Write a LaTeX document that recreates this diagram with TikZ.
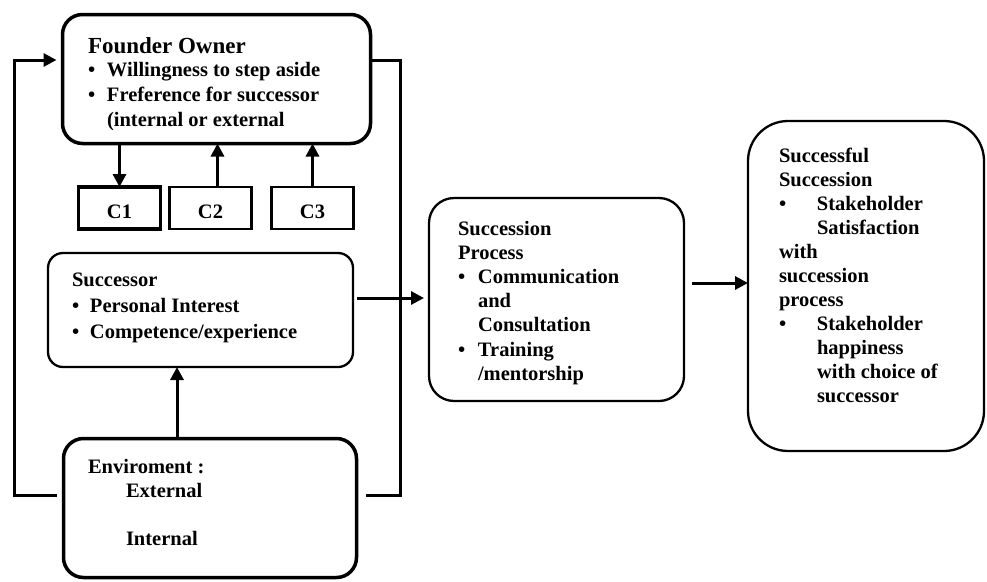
\documentclass[tikz,border=0pt]{standalone}
\usepackage{fontspec}
\setmainfont{Liberation Serif}
\usetikzlibrary{arrows.meta}

% bullet set in a box of fixed width, so that wrapped lines can line up
\newcommand\bulbox[1]{\makebox[#1][l]{\textbullet}}
\newcommand\hangbox[1]{\makebox[#1][l]{}}
% lines stacked under a first line that carries the baseline
\newcommand\linestack[1]{\begin{tabular}[t]{@{}l@{}}#1\end{tabular}}

\begin{document}
\begin{tikzpicture}[x=1pt,y=-1pt,
  every node/.style={inner sep=0pt, outer sep=0pt},
  frame/.style={draw, line width=#1},
  heavy/.style={frame=3.5pt},
  light/.style={frame=2.3pt},
  cbox/.style={frame=#1, minimum width=82pt, minimum height=42pt, anchor=north west},
  txt/.style={anchor=base west, font=\bfseries\fontsize{20.5}{#1}\selectfont},
  tip/.style={-{Triangle[length=13pt,width=13pt]}},
  conn/.style={line width=3pt},
  arr/.style={line width=3pt, tip},
]
\useasboundingbox (0,0) rectangle (987,581);

% ---- boxes ----
\node[heavy, rounded corners=20pt, minimum width=308pt, minimum height=129pt, anchor=north west] (founder) at (62.5,14.5) {};
\node[cbox=3.2pt] (c1) at (78.5,187) {};
\node[cbox=2.6pt] (c2) at (169.5,187) {};
\node[cbox=2.6pt] (c3) at (271.5,187) {};
\node[light, rounded corners=15pt, minimum width=305pt, minimum height=114pt, anchor=north west] (succ) at (48,253) {};
\node[heavy, rounded corners=20pt, minimum width=293pt, minimum height=139pt, anchor=north west] (env) at (63.5,438.5) {};
\node[light, rounded corners=25pt, minimum width=255pt, minimum height=203pt, anchor=north west] (proc) at (429,198) {};
\node[light, rounded corners=40pt, minimum width=236pt, minimum height=330pt, anchor=north west] (done) at (748,121) {};

% ---- texts ----
\node[anchor=base west, font=\bfseries\fontsize{23}{26}\selectfont] (fotitle) at (88,53) {Founder Owner};
\node[txt=25pt] (folist) at (88,76) {\linestack{\bulbox{19pt}Willingness to step aside\\
  \bulbox{19pt}Freference for successor\\
  \hangbox{19pt}(internal or external}};
\node[txt=20pt, anchor=base] (c1t) at (c1.center |- 0,218) {C1};
\node[txt=20pt, anchor=base] (c2t) at (c2.center |- 0,218) {C2};
\node[txt=20pt, anchor=base] (c3t) at (c3.center |- 0,218) {C3};
\node[txt=26pt] (succtxt) at (72,286) {\linestack{Successor\\
  \bulbox{18pt}Personal Interest\\
  \bulbox{18pt}Competence/experience}};
\node[txt=24pt] (envtxt) at (88,473) {\linestack{Enviroment :\\
  \hangbox{38pt}External\\
  \\
  \hangbox{38pt}Internal}};
\node[txt=24.2pt] (proctxt) at (458,235) {\linestack{Succession\\
  Process\\
  \bulbox{20pt}Communication\\
  \hangbox{20pt}and\\
  \hangbox{20pt}Consultation\\
  \bulbox{20pt}Training\\
  \hangbox{20pt}/mentorship}};
\node[txt=24pt] (donetxt) at (779,162) {\linestack{Successful\\
  Succession\\
  \bulbox{38pt}Stakeholder\\
  \hangbox{38pt}Satisfaction\\
  with\\
  succession\\
  process\\
  \bulbox{38pt}Stakeholder\\
  \hangbox{38pt}happiness\\
  \hangbox{38pt}with choice of\\
  \hangbox{38pt}successor}};

% ---- feedback loops round the left column ----
\draw[conn, tip]
  ([xshift=-7pt,yshift=12.5pt]env.west) -| (14,60) -- ([xshift=-6pt]founder.west |- 0,60);
\draw[conn]
  (founder.east |- 0,60) -| (400,495) -- ([xshift=9pt]env.east |- 0,495);

% ---- arrows between founder and C boxes ----
\draw[arr] (c1.north |- founder.south) -- (c1.north);
\draw[arr] ([xshift=7pt]c2.north) -- ([xshift=7pt]c2.north |- founder.south);
\draw[arr] (c3.north) -- (c3.north |- founder.south);

% ---- arrows into the successor and onwards ----
\draw[arr] (env.north -| 177,0) -- (succ.south -| 177,0);
\draw[arr] ([xshift=4pt]succ.east |- 0,298) -- ([xshift=-5pt]proc.west |- 0,298);
\draw[arr] ([xshift=8pt]proc.east |- 0,283) -- (done.west |- 0,283);
\end{tikzpicture}
\end{document}
